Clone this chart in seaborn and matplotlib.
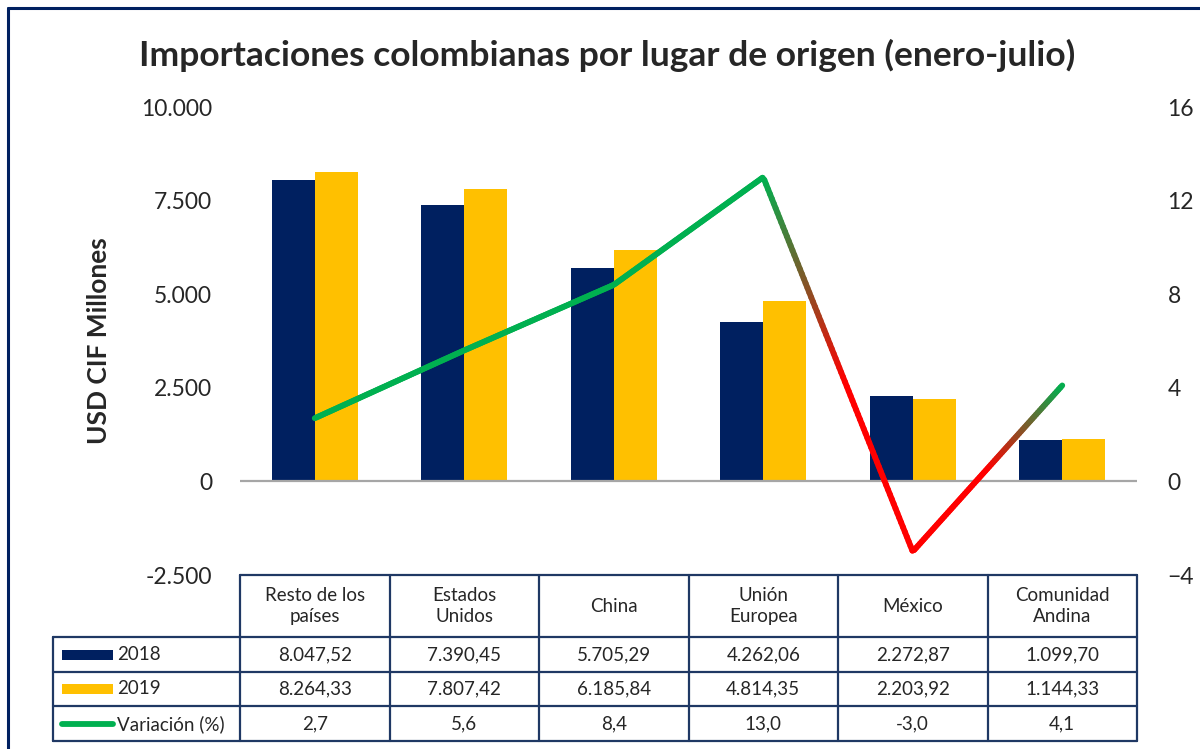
import numpy as np
import pandas as pd
import matplotlib
matplotlib.use("Agg")
import matplotlib.pyplot as plt
import seaborn as sns
from matplotlib.collections import LineCollection
from matplotlib.colors import to_rgb

# datos
regiones = ["Resto de los\npaíses", "Estados\nUnidos", "China", "Unión\nEuropea", "México", "Comunidad\nAndina"]
imp_2018 = [8047.52, 7390.45, 5705.29, 4262.06, 2272.87, 1099.70]
imp_2019 = [8264.33, 7807.42, 6185.84, 4814.35, 2203.92, 1144.33]
variacion = [2.7, 5.6, 8.4, 13.0, -3.0, 4.1]
txt_2018 = ["8.047,52", "7.390,45", "5.705,29", "4.262,06", "2.272,87", "1.099,70"]
txt_2019 = ["8.264,33", "7.807,42", "6.185,84", "4.814,35", "2.203,92", "1.144,33"]
txt_var = ["2,7", "5,6", "8,4", "13,0", "-3,0", "4,1"]
yticks_izq = [-2500, 0, 2500, 5000, 7500, 10000]
ylabels_izq = ["-2.500", "0", "2.500", "5.000", "7.500", "10.000"]
yticks_der = [-4, 0, 4, 8, 12, 16]

navy = "#002060"
gold = "#FFC000"
green = "#00B050"
red = "#FF0000"
borde = "#1F3864"

sns.set_theme(style="white")
plt.rcParams["font.family"] = ["Lato", "DejaVu Sans"]

df = pd.DataFrame({
    "region": regiones * 2,
    "valor": imp_2018 + imp_2019,
    "anio": ["2018"] * 6 + ["2019"] * 6,
})

W, H = 1200, 749
fig = plt.figure(figsize=(W / 100, H / 100), dpi=100)

def px(x0, y0, x1, y1):
    return [x0 / W, 1 - y1 / H, (x1 - x0) / W, (y1 - y0) / H]

ax = fig.add_axes(px(240, 107, 1137, 575))
sns.barplot(data=df, x="region", y="valor", hue="anio", palette=[navy, gold],
            width=0.575, saturation=1, legend=False, linewidth=0, ax=ax)
ax.set_xlim(-0.5, 5.5)
ax.set_ylim(-2500, 10000)
ax.set_yticks(yticks_izq)
ax.set_yticklabels(ylabels_izq)
ax.set_xticks([])
ax.set_xlabel("")
ax.set_ylabel("USD CIF Millones", fontsize=19, fontweight="bold", labelpad=22)
ax.tick_params(axis="y", length=0, pad=20, labelsize=16.5)
for s in ax.spines.values():
    s.set_visible(False)
ax.axhline(0, color="#A6A6A6", lw=1.6, zorder=1)

# linea de variacion, eje derecho
ax2 = ax.twinx()
ax2.set_ylim(-4, 16)
ax2.set_yticks(yticks_der)
ax2.tick_params(axis="y", length=0, pad=22, labelsize=16.5)
for s in ax2.spines.values():
    s.set_visible(False)
ax2.grid(False)

# degradado horizontal como en excel (solo color, los puntos son los 6 datos)
xs = np.arange(len(variacion))
fine_x = np.linspace(0, 5, 400)
fine_y = np.interp(fine_x, xs, variacion)
g, r = np.array(to_rgb(green)), np.array(to_rgb(red))
stops = [0, 3.0, 3.55, 4.5, 5.0]
mix = [0, 0, 1, 1, 0]
t = np.interp(fine_x, stops, mix)
cols = (1 - t)[:, None] * g + t[:, None] * r
pts = np.column_stack([fine_x, fine_y]).reshape(-1, 1, 2)
segs = np.concatenate([pts[:-1], pts[1:]], axis=1)
lc = LineCollection(segs, colors=cols[:-1], linewidths=4.2, capstyle="round", joinstyle="round")
ax2.add_collection(lc)
ax2.set_xlim(-0.5, 5.5)

# tabla de datos
tax = fig.add_axes(px(53, 575, 1137, 741))
lab_w = 187 / 149.5
x0 = -0.5 - lab_w
tax.set_xlim(x0, 5.5)
tax.set_ylim(166, 0)
tax.axis("off")
rows = [0, 62, 97, 131, 166]
lw = 1.6
tax.plot([-0.5, 5.5], [0, 0], color=borde, lw=lw, clip_on=False)
for y in rows[1:]:
    tax.plot([x0, 5.5], [y, y], color=borde, lw=lw, clip_on=False)
for k in range(7):
    tax.plot([-0.5 + k, -0.5 + k], [0, 166], color=borde, lw=lw, clip_on=False)
tax.plot([x0, x0], [62, 166], color=borde, lw=lw, clip_on=False)

fs = 13.5
for i, reg in enumerate(regiones):
    tax.text(i, 31, reg, ha="center", va="center", fontsize=fs, linespacing=1.25)
    tax.text(i, 80, txt_2018[i], ha="center", va="center", fontsize=fs)
    tax.text(i, 114, txt_2019[i], ha="center", va="center", fontsize=fs)
    tax.text(i, 149, txt_var[i], ha="center", va="center", fontsize=fs)

kx0 = x0 + 9 / 149.5
kx1 = x0 + 60 / 149.5
tx = x0 + 64 / 149.5
tax.fill_between([kx0, kx1], 75, 85, color=navy, lw=0)
tax.fill_between([kx0, kx1], 109, 119, color=gold, lw=0)
tax.plot([kx0, kx1], [149, 149], color=green, lw=4.2, solid_capstyle="round")
tax.text(tx, 80, "2018", ha="left", va="center", fontsize=fs)
tax.text(tx, 114, "2019", ha="left", va="center", fontsize=fs)
tax.text(tx, 149, "Variación (%)", ha="left", va="center", fontsize=fs)

fig.suptitle("Importaciones colombianas por lugar de origen (enero-julio)",
             x=607 / W, y=1 - 55 / H, va="center", fontsize=25.5, fontweight="bold")

# marco
fig.add_artist(plt.Line2D([8 / W, 1], [1 - 8 / H] * 2, color=navy, lw=2.2, transform=fig.transFigure))
fig.add_artist(plt.Line2D([8 / W] * 2, [0, 1 - 8 / H], color=navy, lw=2.2, transform=fig.transFigure))

fig.savefig("out.png", dpi=100)
